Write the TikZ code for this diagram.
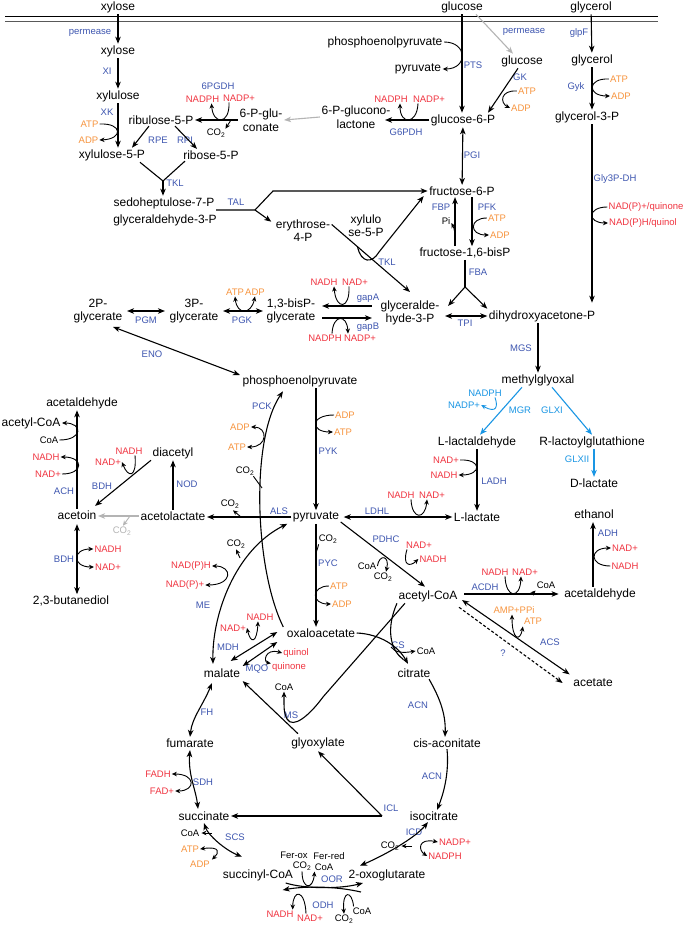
\documentclass[tikz,border=0pt]{standalone}
\usepackage{fontspec}
\setmainfont{Liberation Sans}
\usetikzlibrary{arrows.meta,calc}
\definecolor{enzc}{RGB}{62,86,176}
\definecolor{redc}{RGB}{240,52,64}
\definecolor{orac}{RGB}{247,148,62}
\definecolor{cyac}{RGB}{26,150,228}
\definecolor{grac}{RGB}{180,180,180}
\newcommand{\COtwo}{CO\textsubscript{2}}
\tikzset{
 met/.style={font=\fontsize{12}{13.5}\selectfont, inner sep=1.5pt, align=center},
 sm/.style={font=\fontsize{9.5}{11}\selectfont, inner sep=1pt},
 enzl/.style={sm, text=enzc},
 rc/.style={sm, text=redc},
 oc/.style={sm, text=orac},
 kc/.style={sm, text=black},
 cc/.style={sm, text=cyac},
 gc/.style={sm, text=grac},
 rx/.style={line width=1.1pt, -{Stealth[length=7pt,width=5.5pt,inset=2pt]}},
 rxb/.style={line width=1.1pt, {Stealth[length=7pt,width=5.5pt,inset=2pt]}-{Stealth[length=7pt,width=5.5pt,inset=2pt]}},
 cf/.style={line width=0.9pt, -{Stealth[length=5pt,width=4.5pt,inset=1.5pt]}},
 cfb/.style={line width=0.9pt, {Stealth[length=5pt,width=4.5pt,inset=1.5pt]}-{Stealth[length=5pt,width=4.5pt,inset=1.5pt]}},
 ln/.style={line width=1.1pt},
}
\begin{document}
\begin{tikzpicture}[x=1pt,y=-1pt]
\useasboundingbox (0,0) rectangle (685,925);
\fill[white] (0,0) rectangle (685,925);
% membrane
\draw[line width=0.9pt] (5,16) -- (658,16);
\draw[line width=1.6pt, black!65] (5,21.5) -- (658,21.5);
% ---------- metabolites
\node[met] (xylO) at (118,7) {xylose};
\node[met] (gluO) at (462,7) {glucose};
\node[met] (glyO) at (591,7) {glycerol};
\node[met] (xyl) at (118,51) {xylose};
\node[met] (xylu) at (118,96) {xylulose};
\node[met] (x5p) at (112,155) {xylulose-5-P};
\node[met] (ru5p) at (161,120) {ribulose-5-P};
\node[met] (r5p) at (211,155) {ribose-5-P};
\node[met] (s7p) at (164,203) {sedoheptulose-7-P};
\node[met] (g3pa) at (165,220) {glyceraldehyde-3-P};
\node[met] (gnt) at (261,120) {6-P-glu-\\conate};
\node[met] (glcl) at (356,117) {6-P-glucono-\\lactone};
\node[met] (pep1) at (385,42) {phosphoenolpyruvate};
\node[met] (pyr1) at (418,69) {pyruvate};
\node[met] (glc) at (522,61) {glucose};
\node[met] (g6p) at (463,120) {glucose-6-P};
\node[met] (gly) at (592,60) {glycerol};
\node[met] (gly3p) at (587,117) {glycerol-3-P};
\node[met] (f6p) at (462,191) {fructose-6-P};
\node[met] (fbp) at (465,253) {fructose-1,6-bisP};
\node[met] (e4p) at (303,230.5) {erythrose-\\4-P};
\node[met] (x5pb) at (366,225.5) {xylulo\\se-5-P};
\node[met] (gap) at (410,313) {glyceralde-\\hyde-3-P};
\node[met] (dhap) at (542,316) {dihydroxyacetone-P};
\node[met] (bpg) at (291,311) {1,3-bisP-\\glycerate};
\node[met] (pg3) at (194,311) {3P-\\glycerate};
\node[met] (pg2) at (98,311) {2P-\\glycerate};
\node[met] (pep) at (300,381) {phosphoenolpyruvate};
\node[met] (mg) at (538,380) {methylglyoxal};
\node[met] (lald) at (477,442) {L-lactaldehyde};
\node[met] (rlg) at (592,442) {R-lactoylglutathione};
\node[met] (dlac) at (594,483) {D-lactate};
\node[met] (llac) at (477,517) {L-lactate};
\node[met] (pyr) at (316,517) {pyruvate};
\node[met] (acl) at (173,516) {acetolactate};
\node[met] (diac) at (173,453) {diacetyl};
\node[met] (actn) at (77,515) {acetoin};
\node[met] (acald1) at (82,403) {acetaldehyde};
\node[met] (accoa1) at (31,423) {acetyl-CoA};
\node[met] (btd) at (71,601) {2,3-butanediol};
\node[met] (accoa) at (428,596) {acetyl-CoA};
\node[met] (acald2) at (600,594) {acetaldehyde};
\node[met] (etoh) at (594,514) {ethanol};
\node[met] (acet) at (593,683) {acetate};
\node[met] (oaa) at (321,633) {oxaloacetate};
\node[met] (mal) at (222,673) {malate};
\node[met] (cit) at (414,673) {citrate};
\node[met] (glx) at (318,743) {glyoxylate};
\node[met] (cis) at (447,743) {cis-aconitate};
\node[met] (icit) at (434,816) {isocitrate};
\node[met] (fum) at (190,743) {fumarate};
\node[met] (succ) at (204,816) {succinate};
\node[met] (sucoa) at (258,875) {succinyl-CoA};
\node[met] (oxog) at (387,875) {2-oxoglutarate};
% ---------- enzymes
\node[enzl] (ePerm1) at (90,33) {permease};
\node[enzl] (eXI) at (107,71) {XI};
\node[enzl] (eXK) at (107,112) {XK};
\node[enzl] (eRPE) at (158,140) {RPE};
\node[enzl] (eRPI) at (185,140) {RPI};
\node[enzl] (eTKL) at (175,183) {TKL};
\node[enzl] (e6PG) at (218,86) {6PGDH};
\node[enzl] (eG6P) at (406,132) {G6PDH};
\node[enzl] (ePTS) at (473,65) {PTS};
\node[enzl] (ePerm2) at (524,32) {permease};
\node[enzl] (eGK) at (520,77) {GK};
\node[enzl] (eglpF) at (579,33) {glpF};
\node[enzl] (eGyk) at (576,87) {Gyk};
\node[enzl] (ePGI) at (472,155) {PGI};
\node[enzl] (eTAL) at (236,202) {TAL};
\node[enzl] (eFBP) at (441,207) {FBP};
\node[enzl] (ePFK) at (487,207) {PFK};
\node[enzl] (eGly) at (615,179) {Gly3P-DH};
\node[enzl] (eFBA) at (478,272) {FBA};
\node[enzl] (eTPI) at (465,323) {TPI};
\node[enzl] (eTKL2) at (387,262) {TKL};
\node[enzl] (egapA) at (368,298) {gapA};
\node[enzl] (egapB) at (368,327) {gapB};
\node[enzl] (ePGK) at (242,320) {PGK};
\node[enzl] (ePGM) at (146,320) {PGM};
\node[enzl] (eENO) at (152,354) {ENO};
\node[enzl] (eMGS) at (521,348) {MGS};
\node[enzl] (ePCK) at (262,406) {PCK};
\node[enzl] (ePYK) at (328,451) {PYK};
\node[sm, text=cyac] (eMGR) at (520,410) {MGR};
\node[sm, text=cyac] (eGLXI) at (552,410) {GLXI};
\node[sm, text=cyac] (eGLXII) at (577,459) {GLXII};
\node[enzl] (eLADH) at (494,481) {LADH};
\node[enzl] (eNOD) at (187,484) {NOD};
\node[enzl] (eBDH) at (102,486) {BDH};
\node[enzl] (eACH) at (64,491) {ACH};
\node[enzl] (eALS) at (279,511) {ALS};
\node[enzl] (eLDHL) at (377,511) {LDHL};
\node[enzl] (ePDHC) at (386,539) {PDHC};
\node[enzl] (ePYC) at (328,563) {PYC};
\node[enzl] (eBDH2) at (64,559) {BDH};
\node[enzl] (eME) at (203,605) {ME};
\node[enzl] (eADH) at (608,533) {ADH};
\node[enzl] (eACDH) at (485,587) {ACDH};
\node[enzl] (eACS) at (550,642) {ACS};
\node[enzl] (eQ) at (503,653) {?};
\node[enzl] (eMDH) at (228,647) {MDH};
\node[enzl] (eMQO) at (257,669) {MQO};
\node[enzl] (eCS) at (398,645) {CS};
\node[enzl] (eMS) at (291,715) {MS};
\node[enzl] (eACN) at (418,705) {ACN};
\node[enzl] (eFH) at (207,712) {FH};
\node[enzl] (eACN2) at (432,776) {ACN};
\node[enzl] (eSDH) at (203,782) {SDH};
\node[enzl] (eICL) at (391,808) {ICL};
\node[enzl] (eICD) at (414,832) {ICD};
\node[enzl] (eSCS) at (235,837) {SCS};
\node[enzl] (eOOR) at (332,879) {OOR};
\node[enzl] (eODH) at (323,905) {ODH};
% ---------- cofactors
\node[oc] (atpXK) at (89.5,124) {ATP};
\node[oc] (adpXK) at (88.5,140) {ADP};
\node[rc] (nadphG) at (202.5,99) {NADPH};
\node[rc] (nadpG) at (239,98) {NADP+};
\node[kc] (co2G) at (216,133) {\COtwo};
\node[rc] (nadphZ) at (391,99) {NADPH};
\node[rc] (nadpZ) at (429,99) {NADP+};
\node[oc] (atpGK) at (527,91) {ATP};
\node[oc] (adpGK) at (521,108) {ADP};
\node[oc] (atpGy) at (619,79) {ATP};
\node[oc] (adpGy) at (621,96) {ADP};
\node[oc] (atpPF) at (497,218) {ATP};
\node[oc] (adpPF) at (500,235) {ADP};
\node[kc] (piF) at (446,221) {Pi};
\node[rc] (nadpq) at (646,207) {NAD(P)+/quinone};
\node[rc] (nadphq) at (643,223) {NAD(P)H/quinol};
\node[rc] (nadhA) at (324,282) {NADH};
\node[rc] (nadA) at (355,282) {NAD+};
\node[rc] (nadphB) at (325,338) {NADPH};
\node[rc] (nadpB) at (360,338) {NADP+};
\node[oc] (atpPG) at (235,292) {ATP};
\node[oc] (adpPG) at (255,292) {ADP};
\node[oc] (adpPY) at (345,415) {ADP};
\node[oc] (atpPY) at (343,432) {ATP};
\node[oc] (adpPC) at (240,427) {ADP};
\node[oc] (atpPC) at (237,447) {ATP};
\node[kc] (co2PC) at (245,471) {\COtwo};
\node[sm, text=cyac] (nadphMG) at (485,393) {NADPH};
\node[sm, text=cyac] (nadpMG) at (464,405) {NADP+};
\node[rc] (nadLA) at (446,460) {NAD+};
\node[rc] (nadhLA) at (444,475) {NADH};
\node[kc] (coaAC) at (49,440) {CoA};
\node[rc] (nadhAC) at (46,457) {NADH};
\node[rc] (nadAC) at (48,474) {NAD+};
\node[rc] (nadhBD) at (129,451) {NADH};
\node[rc] (nadBD) at (108,462) {NAD+};
\node[rc] (nadhBD2) at (108,549) {NADH};
\node[rc] (nadBD2) at (108,567) {NAD+};
\node[gc] (co2g) at (122,531) {\COtwo};
\node[kc] (co2AL) at (230,504) {\COtwo};
\node[rc] (nadphME) at (191,566) {NAD(P)H};
\node[rc] (nadpME) at (185,585) {NAD(P)+};
\node[kc] (co2ME) at (236,544) {\COtwo};
\node[rc] (nadhLD) at (401,495) {NADH};
\node[rc] (nadLD) at (432,495) {NAD+};
\node[kc] (co2PY) at (328,539) {\COtwo};
\node[oc] (atpPY2) at (339,586) {ATP};
\node[oc] (adpPY2) at (342,604) {ADP};
\node[kc] (coaPD) at (367,566) {CoA};
\node[kc] (co2PD) at (383,577) {\COtwo};
\node[rc] (nadPD) at (419,545) {NAD+};
\node[rc] (nadhPD) at (433,559) {NADH};
\node[rc] (nadhAD) at (495,572) {NADH};
\node[rc] (nadAD) at (525,572) {NAD+};
\node[kc] (coaAD) at (546,585) {CoA};
\node[rc] (nadAH) at (625,548) {NAD+};
\node[rc] (nadhAH) at (625,566) {NADH};
\node[oc] (ampAS) at (514,610) {AMP+PPi};
\node[oc] (atpAS) at (533,621) {ATP};
\node[rc] (nadhMD) at (260,617) {NADH};
\node[rc] (nadMD) at (233,628) {NAD+};
\node[rc] (quinol) at (296,653) {quinol};
\node[rc] (quinone) at (289,667) {quinone};
\node[kc] (coaCS) at (426,651) {CoA};
\node[kc] (coaMS) at (284,687) {CoA};
\node[rc] (fadh) at (158,774) {FADH};
\node[rc] (fad) at (162,791) {FAD+};
\node[kc] (coaSC) at (190,833) {CoA};
\node[oc] (atpSC) at (190,849) {ATP};
\node[oc] (adpSC) at (200,864) {ADP};
\node[kc] (co2IC) at (390,846) {\COtwo};
\node[rc] (nadpIC) at (455,842) {NADP+};
\node[rc] (nadphIC) at (445,856) {NADPH};
\node[kc] (ferox) at (294,855) {Fer-ox};
\node[kc] (ferred) at (329,856) {Fer-red};
\node[kc] (co2OR) at (302,866) {\COtwo};
\node[kc] (coaOR) at (324,867) {CoA};
\node[rc] (nadhOD) at (280,914) {NADH};
\node[rc] (nadOD) at (310,918) {NAD+};
\node[kc] (co2OD) at (344,919) {\COtwo};
\node[kc] (coaOD) at (362,911) {CoA};
% ---------- connectors
% xylose
\draw[rx] (xylO) -- (xyl);
\draw[rx] (xyl) -- (xylu);
\draw[rx] (xylu.south) -- (xylu.south |- x5p.north);
\draw[cf] (atpXK.east) .. controls (123,123) and (123,139) .. (adpXK.east);
\draw[rx] ($(ru5p.south)+(-12,0)$) -- ($(x5p.north)+(20,0)$);
\draw[rx] ($(ru5p.south)+(14,0)$) -- ($(r5p.north)+(-14,0)$);
\coordinate (tklj) at (163,181);
\draw[ln] ($(x5p.south)+(28,0)$) -- (tklj) -- ($(r5p.south)+(-26,0)$);
\draw[rx] (tklj) -- (tklj |- s7p.north);
% 6PGDH
\draw[rx] (gnt.west) -- (gnt.west -| ru5p.east);
\draw[cf] ($(nadpG.south)+(-10,0)$) .. controls (230,125) and (213,125) .. ($(nadphG.south)+(9,0)$);
\draw[cf] (231,120) -- ($(co2G.north east)+(-1,1)$);
\draw[rx, draw=grac] (glcl.west) -- (gnt.east);
% G6PDH
\draw[rx] (g6p.west) -- ($(g6p.west -| glcl.east)+(-7,0)$);
\draw[cf] ($(nadpZ.south)+(-11,0)$) .. controls (417,125) and (400,125) .. ($(nadphZ.south)+(9,0)$);
% PTS
\draw[rx] (gluO.south) -- (gluO.south |- g6p.north);
\draw[cf] (pep1.east) .. controls (468,42) and (468,69) .. (pyr1.east);
\draw[rx, draw=grac] ($(gluO.south)+(14,0)$) -- ($(glc.north)+(-9,0)$);
\draw[rx] ($(glc.south)+(-4,0)$) -- ($(g6p.north)+(25,0)$);
\draw[cf] (atpGK.west) .. controls (500,90) and (500,103) .. (adpGK.west);
% glycerol
\draw[rx] (glyO) -- (gly);
\draw[rx] (gly.south) -- (gly.south |- gly3p.north);
\draw[cf] (atpGy.west) .. controls (587,78) and (587,96) .. (adpGy.west);
\draw[rx, shorten >=6pt] (gly.south |- gly3p.south) -- (gly.south |- dhap.north);
\draw[cf] (nadpq.west) .. controls (587,207) and (587,223) .. (nadphq.west);
% upper glycolysis
\draw[rxb] (g6p) -- (f6p);
\coordinate (pfkT) at ($(f6p.south)+(10,0)$);
\draw[rx] (pfkT) -- (pfkT |- fbp.north);
\draw[cf] (atpPF.west) .. controls (469,218) and (469,235) .. (adpPF.west);
\coordinate (fbpB) at ($(fbp.north)+(-10,0)$);
\draw[rx] (fbpB) -- (fbpB |- f6p.south);
\draw[cf] (455,234) .. controls (454,228) .. ($(piF.east)+(0,2)$);
\coordinate (fbaj) at (465,287);
\draw[ln] (fbp.south) -- (fbaj);
\draw[rx] (fbaj) -- (dhap.north west);
\draw[rx] (fbaj) -- ($(gap.north east)+(7,7)$);
\draw[rxb] ($(gap.east |- dhap.west)+(4,0)$) -- (dhap.west);
% TAL / TKL
\coordinate (talj) at (255,210);
\coordinate (talu) at (273,191);
\draw[rx] ($(s7p.east)+(0,7)$) -- (talj) -- (talu) -- (talu -| f6p.west);
\draw[rx] (talj) -- ($(e4p.north west)+(-3,4)$);
\draw[rx] ($(e4p.east)+(0,-6)$) -- ($(gap.north)+(0,-7)$);
\coordinate (tklU) at ($($(e4p.east)+(0,-6)$)!0.33!($(gap.north)+(0,-7)$)$);
\draw[rx] (tklU) .. controls (361,263) and (372,264) .. (379,252) -- ($(f6p.south west)+(-4,-1)$);
% gap / bpg
\draw[rx] ($(gap.west)+(-7,-7)$) -- ($(bpg.east)+(5,-5)$);
\draw[rx] ($(bpg.east)+(5,7)$) -- ($(gap.west)+(-7,5)$);
\draw[cf] ($(nadA.south)+(-6,0)$) .. controls (350,310) and (336,310) .. ($(nadhA.south)+(10,0)$);
\draw[cf] ($(nadphB.north)+(7,0)$) .. controls (333,314) and (347,314) .. ($(nadpB.north)+(-12,0)$);
\draw[rxb] ($(pg3.east)+(3,0)$) -- ($(bpg.west)+(-2,0)$);
\draw[cfb] (atpPG.south) .. controls (237,315) and (251,315) .. (adpPG.south);
\draw[rxb] ($(pg2.east)+(3,0)$) -- ($(pg3.west)+(-3,0)$);
\draw[rxb] ($(pg2.south)+(15,2)$) -- ($(pep.west)+(-1,-6)$);
% PEP -> pyruvate
\draw[rx] (pyr.north |- pep.south) -- (pyr.north);
\draw[cf] (adpPY.west) .. controls (310,415) and (310,432) .. (atpPY.west);
\draw[rx] ($(oaa.north west)+(-2,0)$) .. controls (255,570) and (250,440) .. ($(pep.south)+(-17,3)$);
\draw[cfb] (adpPC.east) .. controls (268,427) and (268,447) .. (atpPC.east);
\draw[line width=0.9pt] ($(co2PC.south east)+(-2,0)$) -- (262,488);
% methylglyoxal
\draw[rx] (dhap.south -| mg.north) -- (mg.north);
\draw[rx, draw=cyac] ($(mg.south west)+(22,0)$) -- ($(lald.north)+(3,0)$);
\draw[cf, draw=cyac] ($(nadphMG.south)+(10,0)$) .. controls (498,406) and (497,414) .. (nadpMG.east);
\draw[rx, draw=cyac] ($(mg.south east)+(-24,0)$) -- (rlg.north);
\draw[rx, draw=cyac] (rlg.south -| dlac.north) -- (dlac.north);
\draw[rx] (lald.south) -- (lald.south |- llac.north);
\draw[cf] (nadLA.east) .. controls (482,459) and (482,475) .. (nadhLA.east);
% pyruvate branches
\draw[rx] (pyr.west) -- (pyr.west -| acl.east);
\draw[cf] (241,517) -- ($(co2AL.south)+(3,1)$);
\draw[rx] (acl.north) -- (diac.south);
\draw[rx] (diac.south west) -- ($(actn.north east)+(-3,-3)$);
\draw[cf] ($(nadhBD.south)+(6,0)$) .. controls (137,478) and (128,478) .. (nadBD.east);
\draw[rx, draw=grac] (acl.west) -- (acl.west -| actn.east);
\draw[cf, draw=grac] (130,516) -- ($(co2g.north)+(1,0)$);
\draw[rx] (actn.north) -- (actn.north |- acald1.south);
\draw[cf] (coaAC.east) .. controls (83,440) and (83,423) .. (accoa1.east);
\draw[cf] (nadAC.east) .. controls (84,474) and (84,457) .. (nadhAC.east);
\draw[rxb, shorten <=3pt] (actn.south) -- (actn.south |- btd.north);
\draw[cfb] (nadhBD2.west) .. controls (72,549) and (72,567) .. (nadBD2.west);
% ME
\draw[rxb] ($(mal.north)+(-9,-3)$) .. controls (212,615) and (235,550) .. ($(pyr.south west)+(-4,0)$);
\draw[cfb] (nadphME.east) .. controls (233,566) and (233,585) .. (nadpME.east);
\draw[cf] (240,558) -- (co2ME.south);
% LDHL
\draw[rxb] ($(pyr.east)+(3,0)$) -- (pyr.east -| llac.west);
\draw[cf] ($(nadhLD.south)+(10,0)$) .. controls (412,520) and (425,520) .. ($(nadLD.south)+(-5,0)$);
% PYC
\draw[rx] (pyr.south) -- (pyr.south |- oaa.north);
\draw[line width=0.9pt] ($(co2PY.south west)+(1,0)$) .. controls (318,547) .. (316,553);
\draw[cf] (atpPY2.west) .. controls (311,586) and (311,604) .. (adpPY2.west);
% PDHC
\draw[rx] ($(pyr.east)+(0,5)$) -- ($(accoa.north)+(-3,-2)$);
\draw[cf] (coaPD.east) .. controls (379,554) and (390,555) .. ($(co2PD.north)+(3,0)$);
\draw[cf] ($(nadPD.south west)+(2,0)$) .. controls (402,566) and (410,567) .. (nadhPD.west);
% ACDH / ADH
\draw[rx] ($(accoa.east)+(5,-2)$) -- ($(acald2.west)+(-4,0)$);
\draw[cf] ($(nadhAD.south)+(10,0)$) .. controls (506,599) and (520,599) .. ($(nadAD.south)+(-4,0)$);
\draw[cf] (532,594) -- ($(coaAD.south west)+(0,1)$);
\draw[rx] ($(acald2.north)+(-7,0)$) -- ($(etoh.south)+(-1,2)$);
\draw[cf] (nadhAH.west) .. controls (589,566) and (589,548) .. (nadAH.west);
% ACS
\draw[rxb] ($(accoa.east)+(3,4)$) -- ($(acet.north west)+(-2,-3)$);
\draw[cfb] ($(ampAS.south)+(-2,0)$) .. controls (512,640) and (520,642) .. ($(atpAS.south west)+(0,1)$);
\draw[rx, dashed, dash pattern=on 3pt off 2pt] ($(accoa.south east)+(0,4)$) -- ($(acet.west)+(-9,0)$);
% MDH / MQO
\draw[rxb] ($(mal.north east)+(-11,-6)$) -- ($(oaa.west)+(-8,-1)$);
\draw[rxb] ($(oaa.west)+(-8,9)$) -- ($(mal.east)+(1,-7)$);
\draw[cfb] (nadMD.east) .. controls (251,645) and (257,642) .. ($(nadhMD.south)+(-2,0)$);
\draw[cfb] (quinol.west) .. controls (265,648) and (263,662) .. ($(quinone.north west)+(0,2)$);
% CS
\draw[rx] (oaa.east) .. controls (380,634) and (398,646) .. ($(cit.north)+(-6,-3)$);
\draw[ln] ($(accoa.south west)+(0,0)$) .. controls (386,628) and (390,650) .. (403,659);
\draw[cf] (391,647) .. controls (395,653) and (404,653) .. (coaCS.west);
% MS / glyoxylate
\draw[rx] ($(glx.north)+(-20,-2)$) -- ($(mal.south east)+(1,2)$);
\draw[line width=1.1pt, -{Stealth[length=6pt,width=5pt,inset=2pt]}] ($(accoa.south west)+(8,0)$) -- (323,697) .. controls (309,716) and (293,729) .. (287,719) .. controls (284,712) .. (coaMS.south);
% TCA
\draw[rx] ($(cit.south east)+(-3,0)$) .. controls (438,695) and (446,712) .. ($(cis.north)+(-2,0)$);
\draw[rx] (cis.south) .. controls (449,770) and (445,790) .. ($(icit.north)+(3,0)$);
\coordinate (iclj) at (382,816);
\draw[rx] (iclj) -- (iclj -| succ.east);
\draw[rx] (iclj) -- ($(glx.south)+(0,1)$);
\draw[rxb] ($(mal.south)+(-10,4)$) .. controls (203,705) and (192,718) .. (fum.north);
\draw[rxb] ($(fum.south)+(0,1)$) .. controls (188,775) and (196,790) .. ($(succ.north)+(-6,-1)$);
\draw[cfb] (fadh.east) .. controls (196,774) and (196,791) .. (fad.east);
\draw[rxb] ($(succ.south)+(0,1)$) .. controls (208,835) and (225,850) .. ($(sucoa.north)+(-16,-11)$);
\draw[cf] (212,833) -- ($(coaSC.east)+(1,0)$);
\draw[cfb] (atpSC.east) .. controls (221,846) and (219,853) .. ($(adpSC.north east)+(1,0)$);
\draw[rxb] ($(icit.south)+(-6,0)$) .. controls (415,838) and (385,855) .. ($(oxog.north)+(-27,-2)$);
\draw[cf] (412,846) -- ($(co2IC.east)+(1,0)$);
\draw[cfb] (nadpIC.west) .. controls (418,838) and (418,850) .. (nadphIC.west);
% OOR / ODH
\draw[rx] ($(sucoa.east)+(-9,8)$) .. controls (305,889) and (340,889) .. ($(oxog.west)+(16,8)$);
\draw[cf] (co2OR.south) .. controls (302,890) and (313,890) .. ($(coaOR.south west)+(1,0)$);
\draw[rx] ($(oxog.west)+(14,17)$) .. controls (335,886) and (305,886) .. ($(sucoa.east)+(-12,15)$);
\draw[cf] ($(nadOD.north)+(-4,0)$) .. controls (305,889) and (293,889) .. ($(nadhOD.north east)+(-2,0)$);
\draw[cf] ($(coaOD.north west)+(2,0)$) .. controls (352,890) and (342,890) .. (co2OD.north);
\end{tikzpicture}
\end{document}
